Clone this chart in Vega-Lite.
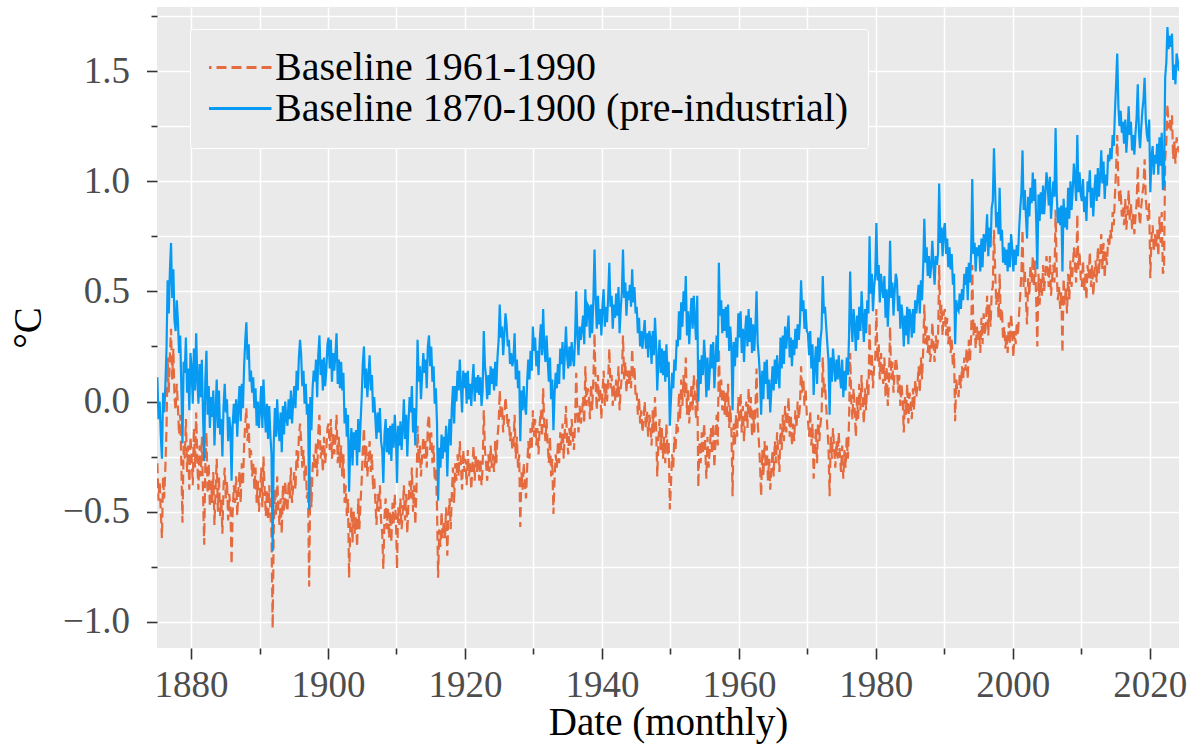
{
"$schema": "https://vega.github.io/schema/vega-lite/v6.json",
"width": 1022, "height": 641,
"autosize": {"type": "none"},
"padding": {"left": 157, "top": 7, "right": 13, "bottom": 99},
"background": "white",
"config": {
 "font": "Liberation Serif",
 "view": {"fill": "#EAEAEA", "stroke": null},
 "axis": {"domain": false, "grid": true, "gridColor": "white", "gridWidth": 1.5, "tickColor": "#333333", "tickWidth": 1.6, "labelColor": "#4D4D4D", "labelFontSize": 37, "labelFont": "Liberation Serif", "titleFont": "Liberation Serif", "titleFontSize": 39, "titleFontWeight": "normal", "titleColor": "black", "labelFlush": false, "labelOverlap": false}
},
"data": {"format": {"type": "csv", "parse": {"x": "number", "a": "number", "b": "number"}}, "values": "x,a,b\n1875.08,-.28,.11\n1875.25,-.45,-.08\n1875.42,-.36,0\n1875.58,-.50,-.15\n1875.75,-.62,-.26\n1875.92,-.34,.04\n1876.08,-.44,-.05\n1876.25,-.30,.07\n1876.42,-.12,.24\n1876.58,.20,.55\n1876.75,.04,.40\n1876.92,.22,.60\n1877.08,.33,.72\n1877.25,.10,.47\n1877.42,.24,.60\n1877.58,.02,.37\n1877.75,-.04,.32\n1877.92,.08,.46\n1878.08,-.02,.37\n1878.25,-.15,.22\n1878.42,-.06,.30\n1878.58,-.28,.07\n1878.75,-.55,-.19\n1878.92,-.20,.18\n1879.08,-.26,.13\n1879.25,-.08,.29\n1879.42,-.32,.04\n1879.58,-.20,.15\n1879.75,-.40,-.04\n1879.92,-.16,.22\n1880.08,-.24,.15\n1880.25,-.38,-.01\n1880.42,-.12,.24\n1880.58,-.30,.05\n1880.75,-.05,.31\n1880.92,-.28,.10\n1881.08,-.40,-.01\n1881.25,-.20,.17\n1881.42,-.34,.02\n1881.58,-.16,.19\n1881.75,-.42,-.06\n1881.92,-.65,-.27\n1882.08,-.30,.09\n1882.25,-.14,.23\n1882.42,-.42,-.06\n1882.58,-.28,.07\n1882.75,-.48,-.12\n1882.92,-.36,.02\n1883.08,-.46,-.07\n1883.25,-.32,.05\n1883.42,-.56,-.20\n1883.58,-.40,-.05\n1883.75,-.26,.10\n1883.92,-.50,-.12\n1884.08,-.34,.05\n1884.25,-.52,-.15\n1884.42,-.44,-.08\n1884.58,-.60,-.25\n1884.75,-.38,-.02\n1884.92,-.30,.08\n1885.08,-.44,-.05\n1885.25,-.36,.01\n1885.42,-.54,-.18\n1885.58,-.42,-.07\n1885.75,-.48,-.12\n1885.92,-.74,-.36\n1886.08,-.50,-.11\n1886.25,-.38,-.01\n1886.42,-.46,-.10\n1886.58,-.34,.01\n1886.75,-.52,-.16\n1886.92,-.40,-.02\n1887.08,-.32,.07\n1887.25,-.46,-.09\n1887.42,-.28,.08\n1887.58,-.38,-.03\n1887.75,-.20,.16\n1887.92,-.10,.28\n1888.08,-.03,.36\n1888.25,-.18,.19\n1888.42,-.10,.26\n1888.58,-.26,.09\n1888.75,-.22,.14\n1888.92,-.34,.04\n1889.08,-.28,.11\n1889.25,-.40,-.03\n1889.42,-.30,.06\n1889.58,-.46,-.11\n1889.75,-.36,0\n1889.92,-.50,-.12\n1890.08,-.42,-.03\n1890.25,-.30,.07\n1890.42,-.48,-.12\n1890.58,-.25,.10\n1890.75,-.40,-.04\n1890.92,-.52,-.14\n1891.08,-.40,-.01\n1891.25,-.54,-.17\n1891.42,-.38,-.02\n1891.58,-.50,-.15\n1891.75,-.60,-.24\n1891.92,-1.03,-.68\n1892.08,-.58,-.19\n1892.25,-.40,-.03\n1892.42,-.52,-.16\n1892.58,-.34,.01\n1892.75,-.48,-.12\n1892.92,-.56,-.18\n1893.08,-.44,-.05\n1893.25,-.60,-.23\n1893.42,-.38,-.02\n1893.58,-.50,-.15\n1893.75,-.36,0\n1893.92,-.46,-.08\n1894.08,-.50,-.11\n1894.25,-.36,.01\n1894.42,-.44,-.08\n1894.58,-.30,.05\n1894.75,-.46,-.10\n1894.92,-.38,0\n1895.08,-.32,.07\n1895.25,-.40,-.03\n1895.42,-.22,.14\n1895.58,-.30,.05\n1895.75,-.16,.20\n1895.92,-.10,.28\n1896.08,-.18,.21\n1896.25,-.30,.07\n1896.42,-.22,.14\n1896.58,-.36,-.01\n1896.75,-.28,.08\n1896.92,-.44,-.06\n1897.08,-.40,-.01\n1897.25,-.84,-.49\n1897.42,-.34,.02\n1897.58,-.48,-.13\n1897.75,-.30,.06\n1897.92,-.24,.14\n1898.08,-.30,.09\n1898.25,-.18,.19\n1898.42,-.34,.02\n1898.58,-.14,.21\n1898.75,-.06,.30\n1898.92,-.26,.12\n1899.08,-.20,.19\n1899.25,-.32,.05\n1899.42,-.16,.20\n1899.58,-.28,.07\n1899.75,-.22,.14\n1899.92,-.12,.26\n1900.08,-.10,.29\n1900.25,-.22,.15\n1900.42,-.08,.28\n1900.58,-.26,.09\n1900.75,-.14,.22\n1900.92,-.24,.14\n1901.08,-.18,.21\n1901.25,-.06,.31\n1901.42,-.28,.08\n1901.58,-.16,.19\n1901.75,-.30,.06\n1901.92,-.20,.18\n1902.08,-.34,.05\n1902.25,-.24,.13\n1902.42,-.46,-.10\n1902.58,-.38,-.03\n1902.75,-.52,-.16\n1902.92,-.44,-.06\n1903.08,-.80,-.41\n1903.25,-.58,-.21\n1903.42,-.48,-.12\n1903.58,-.64,-.29\n1903.75,-.50,-.14\n1903.92,-.60,-.22\n1904.08,-.52,-.13\n1904.25,-.66,-.29\n1904.42,-.44,-.08\n1904.58,-.58,-.23\n1904.75,-.46,-.10\n1904.92,-.36,.02\n1905.08,-.22,.17\n1905.25,-.12,.25\n1905.42,-.30,.06\n1905.58,-.20,.15\n1905.75,-.34,.02\n1905.92,-.26,.12\n1906.08,-.18,.21\n1906.25,-.32,.05\n1906.42,-.24,.12\n1906.58,-.40,-.05\n1906.75,-.34,.02\n1906.92,-.46,-.08\n1907.08,-.56,-.17\n1907.25,-.42,-.05\n1907.42,-.50,-.14\n1907.58,-.38,-.03\n1907.75,-.54,-.18\n1907.92,-.60,-.22\n1908.08,-.76,-.37\n1908.25,-.52,-.15\n1908.42,-.44,-.08\n1908.58,-.58,-.23\n1908.75,-.48,-.12\n1908.92,-.62,-.24\n1909.08,-.50,-.11\n1909.25,-.64,-.27\n1909.42,-.46,-.10\n1909.58,-.56,-.21\n1909.75,-.42,-.06\n1909.92,-.54,-.16\n1910.08,-.76,-.37\n1910.25,-.48,-.11\n1910.42,-.56,-.20\n1910.58,-.44,-.09\n1910.75,-.58,-.22\n1910.92,-.50,-.12\n1911.08,-.38,.01\n1911.25,-.54,-.17\n1911.42,-.42,-.06\n1911.58,-.60,-.25\n1911.75,-.46,-.10\n1911.92,-.36,.02\n1912.08,-.44,-.05\n1912.25,-.30,.07\n1912.42,-.50,-.14\n1912.58,-.38,-.03\n1912.75,-.56,-.20\n1912.92,-.40,-.02\n1913.08,-.11,.28\n1913.25,-.28,.09\n1913.42,-.20,.16\n1913.58,-.34,.01\n1913.75,-.24,.12\n1913.92,-.16,.22\n1914.08,-.26,.13\n1914.25,-.18,.19\n1914.42,-.30,.06\n1914.58,-.10,.25\n1914.75,-.06,.30\n1914.92,-.22,.16\n1915.08,-.14,.25\n1915.25,-.28,.09\n1915.42,-.20,.16\n1915.58,-.36,-.01\n1915.75,-.30,.06\n1915.92,-.48,-.10\n1916.08,-.80,-.45\n1916.25,-.58,-.21\n1916.42,-.66,-.30\n1916.58,-.50,-.15\n1916.75,-.62,-.26\n1916.92,-.54,-.16\n1917.08,-.62,-.23\n1917.25,-.48,-.11\n1917.42,-.70,-.34\n1917.58,-.52,-.17\n1917.75,-.44,-.08\n1917.92,-.58,-.20\n1918.08,-.42,-.03\n1918.25,-.30,.07\n1918.42,-.46,-.10\n1918.58,-.28,.07\n1918.75,-.36,0\n1918.92,-.24,.14\n1919.08,-.34,.05\n1919.25,-.18,.19\n1919.42,-.30,.06\n1919.58,-.40,-.05\n1919.75,-.22,.14\n1919.92,-.32,.06\n1920.08,-.26,.13\n1920.25,-.38,-.01\n1920.42,-.22,.14\n1920.58,-.34,.01\n1920.75,-.28,.08\n1920.92,-.40,-.02\n1921.08,-.30,.09\n1921.25,-.20,.17\n1921.42,-.36,0\n1921.58,-.24,.11\n1921.75,-.32,.04\n1921.92,-.26,.12\n1922.08,-.36,.03\n1922.25,-.26,.11\n1922.42,-.38,-.02\n1922.58,-.30,.05\n1922.75,-.04,.32\n1922.92,-.22,.16\n1923.08,-.28,.11\n1923.25,-.36,.01\n1923.42,-.24,.12\n1923.58,-.32,.03\n1923.75,-.20,.16\n1923.92,-.30,.08\n1924.08,-.24,.15\n1924.25,-.32,.05\n1924.42,-.18,.18\n1924.58,-.28,.07\n1924.75,-.16,.20\n1924.92,-.10,.28\n1925.08,.05,.44\n1925.25,-.08,.29\n1925.42,-.02,.34\n1925.58,-.14,.21\n1925.75,-.06,.30\n1925.92,.02,.40\n1926.08,-.04,.35\n1926.25,-.12,.25\n1926.42,-.08,.28\n1926.58,-.18,.17\n1926.75,-.14,.22\n1926.92,-.22,.16\n1927.08,-.20,.19\n1927.25,-.06,.31\n1927.42,-.26,.10\n1927.58,-.16,.19\n1927.75,-.30,.06\n1927.92,-.24,.14\n1928.08,-.57,-.18\n1928.25,-.32,.05\n1928.42,-.40,-.04\n1928.58,-.28,.07\n1928.75,-.38,-.02\n1928.92,-.44,-.06\n1929.08,-.30,.09\n1929.25,-.18,.19\n1929.42,-.26,.10\n1929.58,-.12,.23\n1929.75,-.22,.14\n1929.92,-.04,.34\n1930.08,-.16,.23\n1930.25,-.08,.29\n1930.42,-.20,.16\n1930.58,-.12,.23\n1930.75,-.24,.12\n1930.92,-.10,.28\n1931.08,-.04,.35\n1931.25,-.16,.21\n1931.42,.06,.42\n1931.58,-.10,.25\n1931.75,-.18,.18\n1931.92,-.08,.30\n1932.08,-.20,.19\n1932.25,-.28,.09\n1932.42,-.16,.20\n1932.58,-.34,.01\n1932.75,-.26,.10\n1932.92,-.51,-.13\n1933.08,-.36,.03\n1933.25,-.24,.13\n1933.42,-.30,.06\n1933.58,-.18,.17\n1933.75,-.28,.08\n1933.92,-.14,.24\n1934.08,-.22,.17\n1934.25,-.10,.27\n1934.42,-.26,.10\n1934.58,-.14,.21\n1934.75,-.02,.34\n1934.92,-.18,.20\n1935.08,-.24,.15\n1935.25,-.12,.25\n1935.42,-.20,.16\n1935.58,-.08,.27\n1935.75,-.16,.20\n1935.92,-.22,.16\n1936.08,-.10,.29\n1936.25,.13,.50\n1936.42,-.06,.30\n1936.58,-.14,.21\n1936.75,-.02,.34\n1936.92,-.10,.28\n1937.08,-.06,.33\n1937.25,.02,.39\n1937.42,-.10,.26\n1937.58,.16,.51\n1937.75,-.02,.34\n1937.92,.06,.44\n1938.08,.04,.43\n1938.25,-.08,.29\n1938.42,.08,.44\n1938.58,-.04,.31\n1938.75,.10,.46\n1938.92,.31,.69\n1939.08,.08,.47\n1939.25,-.04,.33\n1939.42,.12,.48\n1939.58,0,.35\n1939.75,.06,.42\n1939.92,-.08,.30\n1940.08,.04,.43\n1940.25,.14,.51\n1940.42,-.02,.34\n1940.58,.08,.43\n1940.75,0,.36\n1940.92,.10,.48\n1941.08,.24,.63\n1941.25,.06,.43\n1941.42,.12,.48\n1941.58,-.02,.33\n1941.75,.08,.44\n1941.92,0,.38\n1942.08,.10,.49\n1942.25,.02,.39\n1942.42,.16,.52\n1942.58,-.04,.31\n1942.75,.06,.42\n1942.92,.12,.50\n1943.08,.30,.69\n1943.25,.10,.47\n1943.42,.18,.54\n1943.58,.04,.39\n1943.75,.14,.50\n1943.92,.08,.46\n1944.08,.14,.53\n1944.25,.06,.43\n1944.42,.24,.60\n1944.58,.10,.45\n1944.75,.16,.52\n1944.92,.02,.40\n1945.08,.04,.43\n1945.25,-.06,.31\n1945.42,.02,.38\n1945.58,-.10,.25\n1945.75,-.04,.32\n1945.92,-.14,.24\n1946.08,-.08,.31\n1946.25,0,.37\n1946.42,-.12,.24\n1946.58,-.04,.31\n1946.75,-.16,.20\n1946.92,-.06,.32\n1947.08,-.10,.29\n1947.25,-.20,.17\n1947.42,-.04,.32\n1947.58,-.14,.21\n1947.75,.02,.38\n1947.92,-.12,.26\n1948.08,-.34,.05\n1948.25,-.18,.19\n1948.42,-.08,.28\n1948.58,-.22,.13\n1948.75,-.12,.24\n1948.92,-.26,.12\n1949.08,-.16,.23\n1949.25,-.28,.09\n1949.42,-.10,.26\n1949.58,-.24,.11\n1949.75,-.18,.18\n1949.92,-.49,-.11\n1950.08,-.38,.01\n1950.25,-.24,.13\n1950.42,-.30,.06\n1950.58,-.16,.19\n1950.75,-.22,.14\n1950.92,-.10,.28\n1951.08,-.14,.25\n1951.25,.04,.41\n1951.42,-.08,.28\n1951.58,.10,.45\n1951.75,-.02,.34\n1951.92,.12,.50\n1952.08,.02,.41\n1952.25,.20,.57\n1952.42,-.06,.30\n1952.58,.06,.41\n1952.75,-.10,.26\n1952.92,0,.38\n1953.08,.08,.47\n1953.25,-.04,.33\n1953.42,.12,.48\n1953.58,.02,.37\n1953.75,-.08,.28\n1953.92,.10,.48\n1954.08,-.39,0\n1954.25,-.18,.19\n1954.42,-.28,.08\n1954.58,-.14,.21\n1954.75,-.24,.12\n1954.92,-.10,.28\n1955.08,-.20,.19\n1955.25,-.35,.02\n1955.42,-.16,.20\n1955.58,-.30,.05\n1955.75,-.22,.14\n1955.92,-.12,.26\n1956.08,-.24,.15\n1956.25,-.10,.27\n1956.42,-.30,.06\n1956.58,-.18,.17\n1956.75,-.06,.30\n1956.92,-.20,.18\n1957.08,.24,.63\n1957.25,.02,.39\n1957.42,.10,.46\n1957.58,-.04,.31\n1957.75,.06,.42\n1957.92,-.06,.32\n1958.08,.04,.43\n1958.25,-.08,.29\n1958.42,.08,.44\n1958.58,-.12,.23\n1958.75,-.02,.34\n1958.92,-.14,.24\n1959.08,-.43,-.04\n1959.25,-.10,.27\n1959.42,-.20,.16\n1959.58,-.06,.29\n1959.75,-.16,.20\n1959.92,.02,.40\n1960.08,-.10,.29\n1960.25,.04,.41\n1960.42,-.14,.22\n1960.58,-.02,.33\n1960.75,-.18,.18\n1960.92,-.06,.32\n1961.08,0,.39\n1961.25,-.12,.25\n1961.42,.06,.42\n1961.58,-.08,.27\n1961.75,.02,.38\n1961.92,-.16,.22\n1962.08,-.04,.35\n1962.25,-.14,.23\n1962.42,-.02,.34\n1962.58,.15,.50\n1962.75,-.10,.26\n1962.92,-.18,.20\n1963.08,-.28,.11\n1963.25,-.43,-.06\n1963.42,-.22,.14\n1963.58,-.34,.01\n1963.75,-.18,.18\n1963.92,-.30,.08\n1964.08,-.20,.19\n1964.25,-.36,.01\n1964.42,-.26,.10\n1964.58,-.40,-.05\n1964.75,-.30,.06\n1964.92,-.22,.16\n1965.08,-.34,.05\n1965.25,-.18,.19\n1965.42,-.28,.08\n1965.58,-.14,.21\n1965.75,-.24,.12\n1965.92,-.32,.06\n1966.08,-.10,.29\n1966.25,-.22,.15\n1966.42,-.06,.30\n1966.58,-.18,.17\n1966.75,-.02,.34\n1966.92,-.14,.24\n1967.08,-.08,.31\n1967.25,.02,.39\n1967.42,-.16,.20\n1967.58,-.06,.29\n1967.75,-.20,.16\n1967.92,-.10,.28\n1968.08,-.18,.21\n1968.25,-.04,.33\n1968.42,-.12,.24\n1968.58,0,.35\n1968.75,-.08,.28\n1968.92,-.02,.36\n1969.08,.16,.55\n1969.25,.04,.41\n1969.42,.10,.46\n1969.58,-.02,.33\n1969.75,.06,.42\n1969.92,-.06,.32\n1970.08,-.08,.31\n1970.25,-.16,.21\n1970.42,-.04,.32\n1970.58,-.20,.15\n1970.75,-.10,.26\n1970.92,-.35,.03\n1971.08,-.22,.17\n1971.25,-.12,.25\n1971.42,-.28,.08\n1971.58,-.06,.29\n1971.75,-.18,.18\n1971.92,-.10,.28\n1972.08,-.06,.33\n1972.25,.20,.57\n1972.42,.04,.40\n1972.58,.08,.43\n1972.75,-.02,.34\n1972.92,-.12,.26\n1973.08,-.20,.19\n1973.25,-.43,-.06\n1973.42,-.16,.20\n1973.58,-.26,.09\n1973.75,-.12,.24\n1973.92,-.22,.16\n1974.08,-.30,.09\n1974.25,-.18,.19\n1974.42,-.26,.10\n1974.58,-.14,.21\n1974.75,-.24,.12\n1974.92,-.32,.06\n1975.08,-.20,.19\n1975.25,-.35,.02\n1975.42,-.22,.14\n1975.58,-.30,.05\n1975.75,-.16,.20\n1975.92,-.26,.12\n1976.08,-.10,.29\n1976.25,.22,.59\n1976.42,0,.36\n1976.58,-.08,.27\n1976.75,.06,.42\n1976.92,-.04,.34\n1977.08,-.16,.23\n1977.25,.02,.39\n1977.42,-.08,.28\n1977.58,.08,.43\n1977.75,-.04,.32\n1977.92,.12,.50\n1978.08,0,.39\n1978.25,-.10,.27\n1978.42,.06,.42\n1978.58,-.04,.31\n1978.75,.10,.46\n1978.92,.02,.40\n1979.08,.36,.75\n1979.25,.12,.49\n1979.42,.22,.58\n1979.58,.06,.41\n1979.75,.16,.52\n1979.92,.20,.58\n1980.08,.42,.81\n1980.25,.18,.55\n1980.42,.26,.62\n1980.58,.10,.45\n1980.75,.22,.58\n1980.92,.14,.52\n1981.08,.08,.47\n1981.25,.20,.57\n1981.42,.02,.38\n1981.58,.16,.51\n1981.75,-.02,.34\n1981.92,.10,.48\n1982.08,.34,.73\n1982.25,.10,.47\n1982.42,.18,.54\n1982.58,.04,.39\n1982.75,.14,.50\n1982.92,.20,.58\n1983.08,.16,.55\n1983.25,.04,.41\n1983.42,.12,.48\n1983.58,-.02,.33\n1983.75,.08,.44\n1983.92,0,.38\n1984.08,-.14,.25\n1984.25,.02,.39\n1984.42,-.06,.30\n1984.58,.08,.43\n1984.75,-.10,.26\n1984.92,.04,.42\n1985.08,0,.39\n1985.25,-.08,.29\n1985.42,.06,.42\n1985.58,-.04,.31\n1985.75,.10,.46\n1985.92,.02,.40\n1986.08,.08,.47\n1986.25,.16,.53\n1986.42,.04,.40\n1986.58,.20,.55\n1986.75,.10,.46\n1986.92,.24,.62\n1987.08,.44,.83\n1987.25,.26,.63\n1987.42,.34,.70\n1987.58,.22,.57\n1987.75,.30,.66\n1987.92,.18,.56\n1988.08,.22,.61\n1988.25,.36,.73\n1988.42,.26,.62\n1988.58,.18,.53\n1988.75,.30,.66\n1988.92,.24,.62\n1989.08,.28,.67\n1989.25,.62,.99\n1989.42,.36,.72\n1989.58,.44,.79\n1989.75,.30,.66\n1989.92,.40,.78\n1990.08,.42,.81\n1990.25,.30,.67\n1990.42,.38,.74\n1990.58,.26,.61\n1990.75,.34,.70\n1990.92,.22,.60\n1991.08,.28,.67\n1991.25,.16,.53\n1991.42,.22,.58\n1991.58,-.09,.26\n1991.75,.10,.46\n1991.92,.04,.42\n1992.08,.02,.41\n1992.25,.12,.49\n1992.42,.06,.42\n1992.58,.16,.51\n1992.75,.10,.46\n1992.92,.20,.58\n1993.08,.14,.53\n1993.25,.24,.61\n1993.42,.10,.46\n1993.58,.28,.63\n1993.75,.18,.54\n1993.92,.30,.68\n1994.08,.62,1.01\n1994.25,.30,.67\n1994.42,.36,.72\n1994.58,.24,.59\n1994.75,.34,.70\n1994.92,.28,.66\n1995.08,.32,.71\n1995.25,.22,.59\n1995.42,.38,.74\n1995.58,.26,.61\n1995.75,.40,.76\n1995.92,.30,.68\n1996.08,.36,.75\n1996.25,.48,.85\n1996.42,.30,.66\n1996.58,.44,.79\n1996.75,.34,.70\n1996.92,.50,.88\n1997.08,.52,.91\n1997.25,.78,1.15\n1997.42,.60,.96\n1997.58,.44,.79\n1997.75,.50,.86\n1997.92,.38,.76\n1998.08,.58,.97\n1998.25,.36,.73\n1998.42,.42,.78\n1998.58,.28,.63\n1998.75,.34,.70\n1998.92,.24,.62\n1999.08,.30,.69\n1999.25,.22,.59\n1999.42,.36,.72\n1999.58,.26,.61\n1999.75,.40,.76\n1999.92,.32,.70\n2000.08,.20,.59\n2000.25,.32,.69\n2000.42,.26,.62\n2000.58,.36,.71\n2000.75,.30,.66\n2000.92,.40,.78\n2001.08,.48,.87\n2001.25,.58,.95\n2001.42,.78,1.14\n2001.58,.52,.87\n2001.75,.60,.96\n2001.92,.46,.84\n2002.08,.35,.74\n2002.25,.56,.93\n2002.42,.48,.84\n2002.58,.62,.97\n2002.75,.54,.90\n2002.92,.66,1.04\n2003.08,.52,.91\n2003.25,.64,1.01\n2003.42,.46,.82\n2003.58,.25,.60\n2003.75,.58,.94\n2003.92,.44,.82\n2004.08,.56,.95\n2004.25,.48,.85\n2004.42,.62,.98\n2004.58,.50,.85\n2004.75,.58,.94\n2004.92,.66,1.04\n2005.08,.60,.99\n2005.25,.52,.89\n2005.42,.66,1.02\n2005.58,.48,.83\n2005.75,.56,.92\n2005.92,.62,1.00\n2006.08,.54,.93\n2006.25,.87,1.24\n2006.42,.58,.94\n2006.58,.46,.81\n2006.75,.52,.88\n2006.92,.42,.80\n2007.08,.50,.89\n2007.25,.22,.59\n2007.42,.56,.92\n2007.58,.44,.79\n2007.75,.52,.88\n2007.92,.40,.78\n2008.08,.58,.97\n2008.25,.46,.83\n2008.42,.64,1.00\n2008.58,.52,.87\n2008.75,.60,.96\n2008.92,.70,1.08\n2009.08,.62,1.01\n2009.25,.54,.91\n2009.42,.85,1.21\n2009.58,.60,.95\n2009.75,.68,1.04\n2009.92,.56,.94\n2010.08,.52,.91\n2010.25,.64,1.01\n2010.42,.50,.86\n2010.58,.58,.93\n2010.75,.46,.82\n2010.92,.62,1.00\n2011.08,.56,.95\n2011.25,.68,1.05\n2011.42,.52,.88\n2011.58,.62,.97\n2011.75,.48,.84\n2011.92,.58,.96\n2012.08,.64,1.03\n2012.25,.54,.91\n2012.42,.70,1.06\n2012.58,.58,.93\n2012.75,.66,1.02\n2012.92,.76,1.14\n2013.08,.60,.99\n2013.25,.72,1.09\n2013.42,.56,.92\n2013.58,.68,1.03\n2013.75,.62,.98\n2013.92,.74,1.12\n2014.08,.70,1.09\n2014.25,.78,1.15\n2014.42,.74,1.10\n2014.58,.86,1.21\n2014.75,.80,1.16\n2014.92,.94,1.32\n2015.08,1.05,1.44\n2015.25,1.21,1.58\n2015.42,.98,1.34\n2015.58,.90,1.25\n2015.75,.96,1.32\n2015.92,.84,1.22\n2016.08,.88,1.27\n2016.25,.80,1.17\n2016.42,.92,1.28\n2016.58,.78,1.13\n2016.75,.86,1.22\n2016.92,.96,1.34\n2017.08,.82,1.21\n2017.25,.90,1.27\n2017.42,.78,1.14\n2017.58,.86,1.21\n2017.75,.76,1.12\n2017.92,.84,1.22\n2018.08,.90,1.29\n2018.25,1.07,1.44\n2018.42,.86,1.22\n2018.58,.80,1.15\n2018.75,.88,1.24\n2018.92,.94,1.32\n2019.08,.98,1.37\n2019.25,1.10,1.47\n2019.42,.92,1.28\n2019.58,.86,1.21\n2019.75,.82,1.18\n2019.92,.90,1.28\n2020.08,.56,.95\n2020.25,.74,1.11\n2020.42,.80,1.16\n2020.58,.68,1.03\n2020.75,.76,1.12\n2020.92,.70,1.08\n2021.08,.78,1.17\n2021.25,.66,1.03\n2021.42,.84,1.20\n2021.58,.72,1.07\n2021.75,.86,1.22\n2021.92,.58,.96\n2022.08,.60,.99\n2022.25,1.10,1.47\n2022.42,1.18,1.54\n2022.58,1.35,1.70\n2022.75,1.24,1.60\n2022.92,1.28,1.66\n2023.08,1.22,1.61\n2023.25,1.30,1.67\n2023.42,1.10,1.46\n2023.58,1.18,1.53\n2023.75,1.08,1.44\n2023.92,1.20,1.58\n2024.08,1.16,1.55\n2024.25,1.13,1.50"},
"transform": [{"fold": ["a", "b"], "as": ["s", "v"]}],
"mark": {"type": "line", "strokeWidth": 2.2, "clip": true},
"encoding": {
 "x": {"field": "x", "type": "quantitative",
  "scale": {"domain": [1875.03, 2024.27], "nice": false, "zero": false},
  "axis": {"title": "Date (monthly)", "values": [1880, 1890, 1900, 1910, 1920, 1930, 1940, 1950, 1960, 1970, 1980, 1990, 2000, 2010, 2020], "format": "d",
   "labelExpr": "datum.value % 20 == 0 ? datum.label : ''",
   "tickSize": {"condition": {"test": "datum.value % 20 == 0", "value": 11}, "value": 6},
   "labelPadding": 8, "titlePadding": 0}},
 "y": {"field": "v", "type": "quantitative",
  "scale": {"domain": [-1.119, 1.791], "nice": false, "zero": false},
  "axis": {"title": "°C", "values": [-1, -0.75, -0.5, -0.25, 0, 0.25, 0.5, 0.75, 1, 1.25, 1.5, 1.75], "format": ".1f",
   "labelExpr": "round(datum.value * 4) % 2 == 0 ? datum.label : ''",
   "tickSize": {"condition": {"test": "round(datum.value * 4) % 2 == 0", "value": 10.5}, "value": 6},
   "labelPadding": 17, "titlePadding": 14}},
 "color": {"field": "s", "type": "nominal",
  "scale": {"domain": ["a", "b"], "range": ["#E56B3F", "#069AF3"]},
  "legend": {"title": null, "orient": "none", "legendX": 33, "legendY": 22, "symbolType": "stroke", "symbolSize": 4900, "symbolStrokeWidth": 2.8, "symbolOffset": -9, "labelFontSize": 40, "labelColor": "black", "labelOffset": 2, "labelLimit": 0, "padding": 19, "clipHeight": 39, "rowPadding": 0, "fillColor": "#EAEAEA", "strokeColor": "white", "cornerRadius": 3,
   "labelExpr": "datum.label == 'a' ? 'Baseline 1961-1990' : 'Baseline 1870-1900 (pre-industrial)'"}},
 "strokeDash": {"field": "s", "type": "nominal",
  "scale": {"domain": ["a", "b"], "range": [[10, 5], [1, 0]]},
  "legend": {"title": null, "orient": "none", "legendX": 33, "legendY": 22, "symbolType": "stroke", "symbolSize": 4900, "symbolStrokeWidth": 2.8, "symbolOffset": -9, "labelFontSize": 40, "labelColor": "black", "labelOffset": 2, "labelLimit": 0, "padding": 19, "clipHeight": 39, "rowPadding": 0, "fillColor": "#EAEAEA", "strokeColor": "white", "cornerRadius": 3,
   "labelExpr": "datum.label == 'a' ? 'Baseline 1961-1990' : 'Baseline 1870-1900 (pre-industrial)'"}}
}
}
